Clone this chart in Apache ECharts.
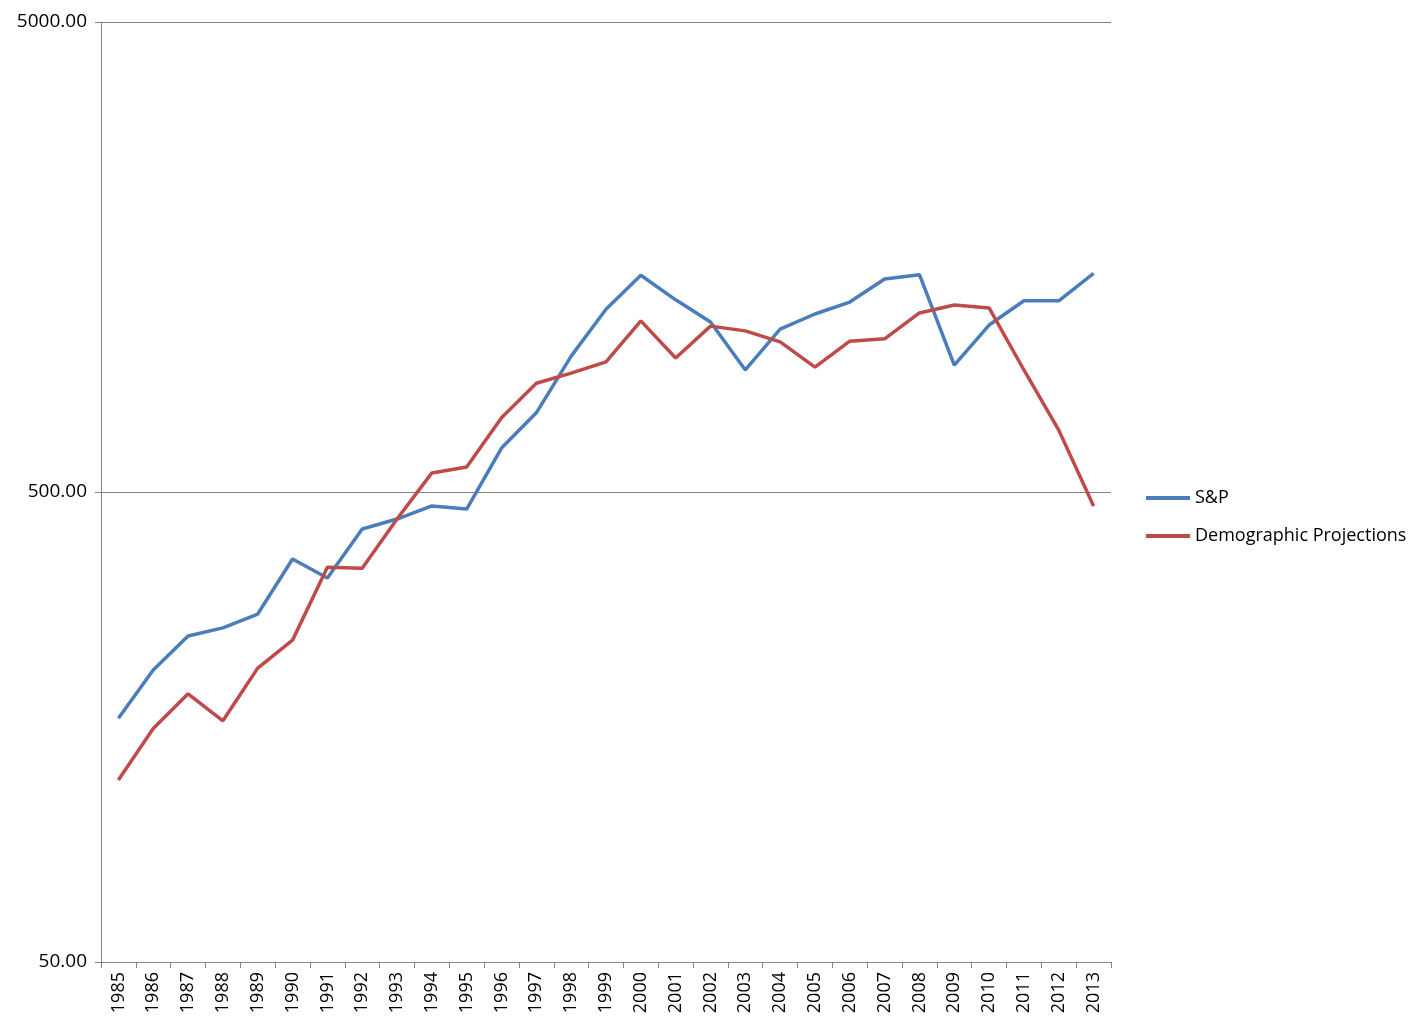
<!DOCTYPE html>
<html lang="en">
<head>
    <meta charset="UTF-8">
    <title>S&amp;P vs Demographic Projections</title>
    <script src="https://cdn.jsdelivr.net/npm/echarts@6/dist/echarts.min.js"></script>
    <style>
        html, body { margin: 0; padding: 0; background: #fff; }
        #main { width: 1422px; height: 1031px; }
    </style>
</head>
<body>
    <div id="main"></div>
    <script>
        // data
        var years = ['1985','1986','1987','1988','1989','1990','1991','1992','1993','1994',
                     '1995','1996','1997','1998','1999','2000','2001','2002','2003','2004',
                     '2005','2006','2007','2008','2009','2010','2011','2012','2013'];
        var sp = [165, 209, 247, 257, 275, 360, 328, 417, 438, 467,
                  460, 620, 737, 973, 1224, 1446, 1282, 1150, 909, 1111,
                  1196, 1268, 1419, 1450, 931, 1133, 1276, 1276, 1460];
        var demo = [122, 157, 186, 163, 211, 242, 346, 344, 438, 549,
                    565, 719, 852, 895, 946, 1156, 964, 1127, 1101, 1043,
                    922, 1047, 1059, 1202, 1250, 1232, 909, 677, 467];
        var yTicks = [50, 500, 5000];

        var axisGrey = '#868686';
        var font = '"Open Sans", sans-serif';

        var chart = echarts.init(document.getElementById('main'));
        var option = {
            animation: false,
            grid: { left: 101, right: 311, top: 22, bottom: 69 },
            legend: {
                orient: 'vertical',
                left: 1141,
                top: 484,
                itemWidth: 44,
                itemHeight: 4,
                itemGap: 20,
                icon: 'rect',
                textStyle: { fontFamily: font, fontSize: 18, color: '#000' },
                data: ['S&P', 'Demographic Projections']
            },
            xAxis: {
                type: 'category',
                data: years,
                boundaryGap: true,
                axisLine: { lineStyle: { color: axisGrey } },
                axisTick: { show: true, length: 6, lineStyle: { color: axisGrey } },
                axisLabel: { rotate: 90, interval: 0, fontFamily: font, fontSize: 18, color: '#000', margin: 10 },
                splitLine: { show: false }
            },
            yAxis: {
                type: 'log',
                logBase: 10,
                min: 50,
                max: 5000,
                axisLine: { show: true, lineStyle: { color: axisGrey } },
                axisTick: { show: true, length: 6, lineStyle: { color: axisGrey }, customValues: yTicks },
                axisLabel: {
                    fontFamily: font, fontSize: 19, color: '#000', margin: 14,
                    customValues: yTicks,
                    formatter: function (v) { return Number(v).toFixed(2); }
                },
                splitLine: { show: true, lineStyle: { color: axisGrey, width: 1 } }
            },
            series: [{
                name: 'S&P',
                type: 'line',
                data: sp,
                symbol: 'none',
                lineStyle: { width: 3.5, color: '#4a7ebb' },
                itemStyle: { color: '#4a7ebb' }
            }, {
                name: 'Demographic Projections',
                type: 'line',
                data: demo,
                symbol: 'none',
                lineStyle: { width: 3.5, color: '#be4b48' },
                itemStyle: { color: '#be4b48' }
            }]
        };
        chart.setOption(option);
    </script>
</body>
</html>
